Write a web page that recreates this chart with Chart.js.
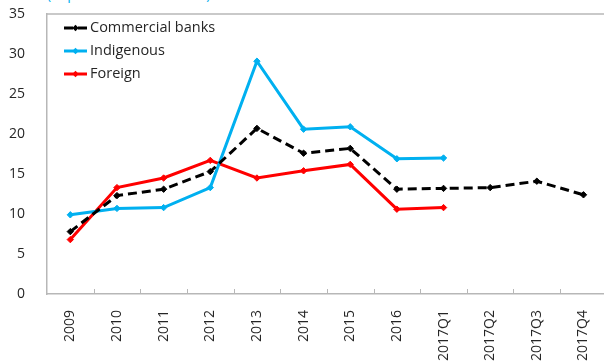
<!DOCTYPE html>
<html>
<head>
<meta charset="utf-8">
<script src="https://cdn.jsdelivr.net/npm/chart.js@4.4.0/dist/chart.umd.min.js"></script>
<style>
  html, body { margin: 0; padding: 0; background: #fff; overflow: hidden; }
  #wrap { position: relative; width: 604px; height: 361px; overflow: hidden; }
  #cap { position: absolute; left: 47px; top: -16px; font: 14px "Open Sans", sans-serif; color: #00B0F0; white-space: nowrap; }
  #holder { position: absolute; left: 0; top: 0; width: 611px; height: 361px; }
</style>
</head>
<body>
<div id="wrap">
  <div id="cap">(In percent of total loans)</div>
  <div id="holder"><canvas id="c" width="611" height="361"></canvas></div>
</div>
<script>
// Periods on the horizontal axis
const categories = ['2009', '2010', '2011', '2012', '2013', '2014', '2015', '2016',
                    '2017Q1', '2017Q2', '2017Q3', '2017Q4'];

// Series values (percent)
const commercialBanks = [7.8, 12.3, 13.1, 15.3, 20.7, 17.6, 18.2, 13.1, 13.2, 13.3, 14.1, 12.4];
const indigenous      = [9.9, 10.7, 10.8, 13.3, 29.1, 20.6, 20.9, 16.9, 17.0, null, null, null];
const foreign         = [6.8, 13.3, 14.5, 16.7, 14.5, 15.4, 16.2, 10.6, 10.8, null, null, null];

const yTicks = [0, 5, 10, 15, 20, 25, 30, 35];

const FONT = '"Open Sans", sans-serif';
const AXIS_COLOR = '#b7b7b7';
const TEXT_COLOR = '#262626';

// Legend drawn inside the plot area, top-left, with line + diamond samples
const insideLegend = {
  id: 'insideLegend',
  afterDraw(chart) {
    const { ctx, chartArea } = chart;
    const x0 = chartArea.left + 17, x1 = chartArea.left + 40;
    ctx.save();
    chart.data.datasets.forEach((ds, i) => {
      const y = chartArea.top + 14 + i * 23;
      ctx.strokeStyle = ds.borderColor;
      ctx.lineWidth = 3;
      ctx.setLineDash(ds.borderDash || []);
      ctx.beginPath();
      ctx.moveTo(x0, y);
      ctx.lineTo(x1, y);
      ctx.stroke();
      ctx.setLineDash([]);
      ctx.fillStyle = ds.borderColor;
      const m = (x0 + x1) / 2, r = 3.2;
      ctx.beginPath();
      ctx.moveTo(m, y - r); ctx.lineTo(m + r, y); ctx.lineTo(m, y + r); ctx.lineTo(m - r, y);
      ctx.closePath(); ctx.fill();
      ctx.fillStyle = TEXT_COLOR;
      ctx.font = '14.5px ' + FONT;
      ctx.textBaseline = 'middle';
      ctx.textAlign = 'left';
      ctx.fillText(ds.label, x1 + 3, y);
    });
    ctx.restore();
  }
};

// Frame top line and inward tick marks between categories
const frame = {
  id: 'frame',
  beforeDatasetsDraw(chart) {
    const { ctx, chartArea, scales } = chart;
    const xs = scales.x;
    ctx.save();
    ctx.strokeStyle = AXIS_COLOR;
    ctx.lineWidth = 1.5;
    ctx.beginPath();
    ctx.moveTo(chartArea.left, chartArea.top);
    ctx.lineTo(chartArea.right, chartArea.top);
    ctx.stroke();
    ctx.lineWidth = 1;
    const step = xs.getPixelForValue(1) - xs.getPixelForValue(0);
    for (let i = 1; i < categories.length; i++) {
      const px = Math.round(xs.getPixelForValue(i) - step / 2) + 0.5;
      ctx.beginPath();
      ctx.moveTo(px, chartArea.bottom);
      ctx.lineTo(px, chartArea.bottom - 5);
      ctx.stroke();
    }
    ctx.restore();
  }
};

const marker = (color) => ({
  pointStyle: 'rectRot',
  pointRadius: 3.2,
  pointHoverRadius: 3.2,
  pointBackgroundColor: color,
  pointBorderColor: color,
  pointBorderWidth: 1
});

new Chart(document.getElementById('c'), {
  type: 'line',
  data: {
    labels: categories,
    datasets: [
      Object.assign({ label: 'Commercial banks', data: commercialBanks, borderColor: '#000000',
        backgroundColor: '#000000', borderWidth: 3, borderDash: [9, 5], tension: 0 }, marker('#000000')),
      Object.assign({ label: 'Indigenous', data: indigenous, borderColor: '#00B0F0',
        backgroundColor: '#00B0F0', borderWidth: 3, tension: 0 }, marker('#00B0F0')),
      Object.assign({ label: 'Foreign', data: foreign, borderColor: '#FF0000',
        backgroundColor: '#FF0000', borderWidth: 3, tension: 0 }, marker('#FF0000'))
    ]
  },
  options: {
    responsive: false,
    animation: false,
    events: [],
    layout: { padding: { top: 14, right: 0, bottom: 0, left: 0 } },
    plugins: { legend: { display: false }, tooltip: { enabled: false }, title: { display: false } },
    scales: {
      x: {
        offset: true,
        grid: { display: false, offset: true },
        border: { display: true, color: AXIS_COLOR, width: 1.5 },
        ticks: { color: TEXT_COLOR, font: { family: FONT, size: 14 }, minRotation: 90, maxRotation: 90,
                 padding: 8, autoSkip: false },
        afterFit(scale) { scale.height = 67; scale.paddingLeft = 0; scale.paddingRight = 0; }
      },
      y: {
        min: 0, max: 35,
        afterBuildTicks(scale) { scale.ticks = yTicks.map(v => ({ value: v })); },
        grid: { display: false },
        border: { display: true, color: AXIS_COLOR, width: 1.5 },
        ticks: { color: TEXT_COLOR, font: { family: FONT, size: 14 }, padding: 14 },
        afterFit(scale) { scale.width = 47; scale.paddingTop = 0; scale.paddingBottom = 0; }
      }
    }
  },
  plugins: [frame, insideLegend]
});
</script>
</body>
</html>
